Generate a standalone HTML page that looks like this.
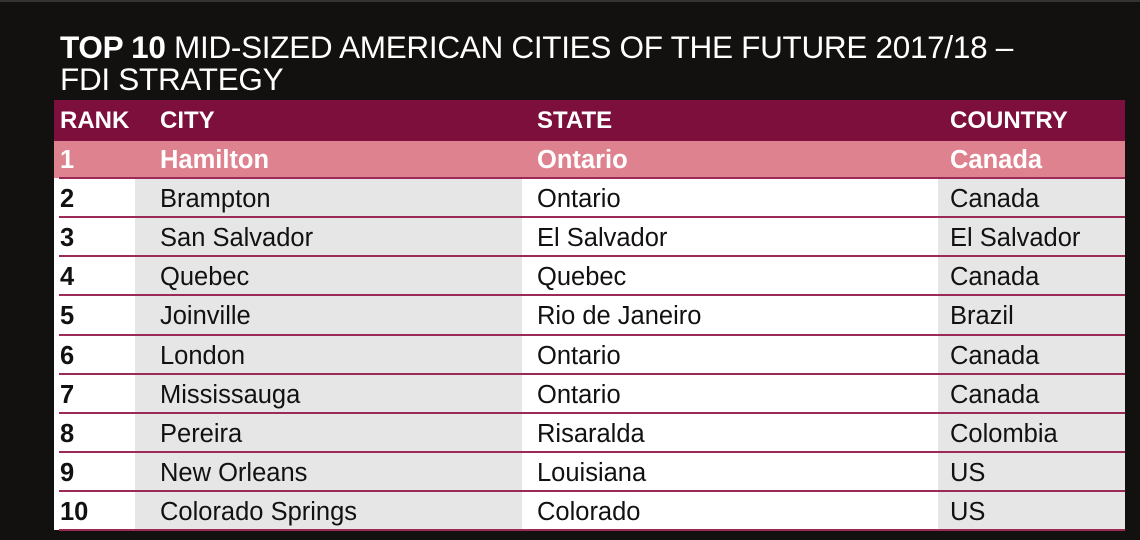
<!DOCTYPE html>
<html><head><meta charset="utf-8"><style>
body{margin:0;width:1140px;height:540px;background:#121110;overflow:hidden;font-family:"Liberation Sans",sans-serif;position:relative}
.title{position:absolute;left:60px;top:31px;color:#fff;font-size:31.5px;line-height:32px;letter-spacing:-0.3px}
.title b{font-weight:900}
.tbl{position:absolute;left:54px;top:100px;width:1071px;height:430px;background:#fff}
.col{position:absolute;top:0;bottom:0}
.hdr{position:absolute;left:0;top:0;width:1071px;height:41px;background:#7c0f3c}
.r1{position:absolute;left:0;top:41px;width:1071px;height:37px;background:#de828f}
.line{position:absolute;left:5px;width:1066px;height:2px;background:#9b2a57}
.t{position:absolute;font-size:25.5px;color:#111;white-space:nowrap}
.h{color:#fff;font-weight:900;font-size:24px}
.w{color:#fff;font-weight:bold}
.rk{font-weight:bold}
</style></head><body>
<div style="position:absolute;left:0;top:0;width:1140px;height:2px;background:#333"></div>
<div class="title"><b>TOP 10</b> MID-SIZED AMERICAN CITIES OF THE FUTURE 2017/18 –<br>FDI STRATEGY</div>
<div class="tbl">
<div class="col" style="left:81px;width:387px;background:#e6e6e6"></div>
<div class="col" style="left:884px;width:187px;background:#e6e6e6"></div>
<div class="hdr"></div>
<div class="r1"></div>
</div>
<script>
const ranks=["1","2","3","4","5","6","7","8","9","10"];
const cities=["Hamilton","Brampton","San Salvador","Quebec","Joinville","London","Mississauga","Pereira","New Orleans","Colorado Springs"];
const states=["Ontario","Ontario","El Salvador","Quebec","Rio de Janeiro","Ontario","Ontario","Risaralda","Louisiana","Colorado"];
const countries=["Canada","Canada","El Salvador","Canada","Brazil","Canada","Canada","Colombia","US","US"];
const tbl=document.querySelector('.tbl');
const colX=[6,106,483,896];
const heads=["RANK","CITY","STATE","COUNTRY"];
heads.forEach((h,i)=>{const d=document.createElement('div');d.className='t h';d.textContent=h;d.style.left=colX[i]+'px';d.style.top='7px';


tbl.appendChild(d);});
const rowY=i=>41+i*39.1;
ranks.forEach((r,i)=>{
 const vals=[r,cities[i],states[i],countries[i]];
 vals.forEach((v,j)=>{const d=document.createElement('div');d.className='t'+(i===0?' w':'')+(j===0?' rk':'');d.textContent=v;d.style.left=colX[j]+'px';d.style.top=(rowY(i)+5)+'px';
 
 
 tbl.appendChild(d);});
 const l=document.createElement('div');l.className='line';l.style.top=(rowY(i+1)-3)+'px';
 
 
 tbl.appendChild(l);
});
</script>
</body></html>
